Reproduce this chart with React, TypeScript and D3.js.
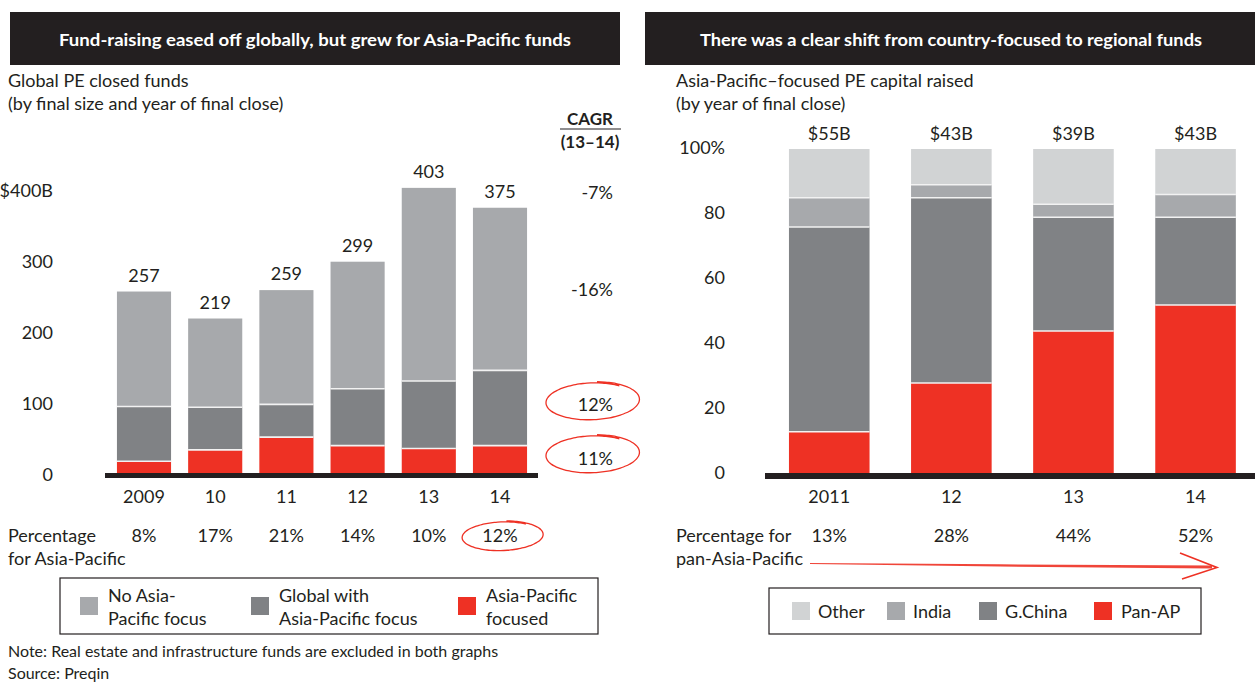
import React from "react";
import * as d3 from "d3";

// ---------- Left chart data ----------
const years = ["2009", "10", "11", "12", "13", "14"];
const totals = [257, 219, 259, 299, 403, 375];
const apFocused = [18, 34, 52, 40, 36, 40];
const globalWithAP = [77, 60, 46, 80, 95, 106];
const noAP = [162, 125, 161, 179, 272, 229];
const apShare = ["8%", "17%", "21%", "14%", "10%", "12%"];
const leftTicks = [0, 100, 200, 300, 400];
const leftTickLabels = ["0", "100", "200", "300", "$400B"];
const cagrLabels = ["-7%", "-16%", "12%", "11%"];

// ---------- Right chart data ----------
const rYears = ["2011", "12", "13", "14"];
const panAP = [13, 28, 44, 52];
const gChina = [63, 57, 35, 27];
const india = [9, 4, 4, 7];
const other = [15, 11, 17, 14];
const rTotals = ["$55B", "$43B", "$39B", "$43B"];
const panShare = ["13%", "28%", "44%", "52%"];
const rightTicks = [0, 20, 40, 60, 80, 100];
const rightTickLabels = ["0", "20", "40", "60", "80", "100%"];

const C = {
  red: "#ee3124",
  light: "#a7a9ac",
  dark: "#808285",
  other: "#d1d3d4",
  text: "#231f20",
  black: "#231f20",
};
const FONT = "Lato, 'Open Sans', sans-serif";

function handEllipse(cx: number, cy: number, rx: number, ry: number, tilt: number) {
  const pts: [number, number][] = [];
  const n = 80;
  const start = -0.9;
  const sweep = Math.PI * 2 + 0.55;
  for (let i = 0; i <= n; i++) {
    const t = (i / n) * sweep;
    const a = start - t;
    const grow = 1 + 0.07 * (i / n);
    const x0 = rx * grow * Math.cos(a);
    const y0 = ry * grow * Math.sin(a);
    const ct = Math.cos(tilt), st = Math.sin(tilt);
    pts.push([cx + x0 * ct - y0 * st, cy + x0 * st + y0 * ct]);
  }
  return d3.line().curve(d3.curveCatmullRom)(pts) || "";
}

function LeftChart() {
  const x = d3.scaleBand<string>().domain(years).range([108.4, 535.6]).paddingInner(0.24).paddingOuter(0.12);
  const y = d3.scaleLinear().domain([0, 400]).range([474, 190]);
  const series = [
    { key: "ap", vals: apFocused, color: C.red },
    { key: "gw", vals: globalWithAP, color: C.dark },
    { key: "no", vals: noAP, color: C.light },
  ];
  const bw = x.bandwidth();
  const last = years.length - 1;
  const cagrY = [
    y(totals[last]) - 16,
    y(apFocused[last] + globalWithAP[last] + noAP[last] / 2),
    y(apFocused[last] + globalWithAP[last] / 2) - 4,
    y(apFocused[last] / 2) - 2,
  ];
  return (
    <g>
      <rect x={10} y={12} width={610} height={53} fill={C.black} />
      <text x={315} y={39} fill="#fff" fontFamily={FONT} fontWeight={700} fontSize={17}
        textAnchor="middle" dominantBaseline="central" textLength={512} lengthAdjust="spacingAndGlyphs">
        Fund-raising eased off globally, but grew for Asia-Pacific funds
      </text>
      <text x={8} y={87} fill={C.text} fontFamily={FONT} fontSize={18}>Global PE closed funds</text>
      <text x={8} y={110} fill={C.text} fontFamily={FONT} fontSize={18}>(by final size and year of final close)</text>

      <text x={590} y={125} fill={C.text} fontFamily={FONT} fontSize={17} fontWeight={700} textAnchor="middle">CAGR</text>
      <line x1={560} x2={621} y1={129} y2={129} stroke={C.text} strokeWidth={1.2} />
      <text x={590} y={148} fill={C.text} fontFamily={FONT} fontSize={17} fontWeight={700} textAnchor="middle">(13–14)</text>

      {leftTicks.map((t, i) => (
        <text key={t} x={53} y={y(t)} fill={C.text} fontFamily={FONT} fontSize={18}
          textAnchor="end" dominantBaseline="central">{leftTickLabels[i]}</text>
      ))}

      {years.map((yr, i) => {
        let acc = 0;
        const x0 = x(yr) as number;
        return (
          <g key={yr}>
            {series.map((s, k) => {
              const v0 = acc;
              acc += s.vals[i];
              return (
                <g key={s.key}>
                  <rect x={x0} y={y(acc)} width={bw} height={y(v0) - y(acc)} fill={s.color} />
                  {k > 0 && <line x1={x0} x2={x0 + bw} y1={y(v0)} y2={y(v0)} stroke="#f2f2f2" strokeWidth={1.6} />}
                </g>
              );
            })}
            <text x={x0 + bw / 2} y={y(totals[i]) - 10} fill={C.text} fontFamily={FONT} fontSize={18}
              textAnchor="middle">{totals[i]}</text>
            <text x={x0 + bw / 2} y={503} fill={C.text} fontFamily={FONT} fontSize={18}
              textAnchor="middle">{yr}</text>
            <text x={x0 + bw / 2} y={542} fill={C.text} fontFamily={FONT} fontSize={18}
              textAnchor="middle">{apShare[i]}</text>
          </g>
        );
      })}
      <rect x={105} y={y(0) - 1} width={433} height={5} fill={C.black} />

      {cagrLabels.map((c, i) => (
        <text key={c + i} x={613} y={cagrY[i]} fill={C.text} fontFamily={FONT} fontSize={18}
          textAnchor="end" dominantBaseline="central">{c}</text>
      ))}
      <path d={handEllipse(592, 401, 45, 18, -0.04)} fill="none" stroke={C.red} strokeWidth={1.3} />
      <path d={handEllipse(592, 454, 45, 18, -0.04)} fill="none" stroke={C.red} strokeWidth={1.3} />
      <path d={handEllipse(502, 536, 39, 14, -0.04)} fill="none" stroke={C.red} strokeWidth={1.3} />

      <text x={8} y={542} fill={C.text} fontFamily={FONT} fontSize={18}>Percentage</text>
      <text x={8} y={565} fill={C.text} fontFamily={FONT} fontSize={18}>for Asia-Pacific</text>

      <rect x={60} y={578} width={538} height={56} fill="none" stroke={C.text} strokeWidth={1.2} />
      <rect x={80} y={597} width={18} height={18} fill={C.light} />
      <text x={108} y={602} fill={C.text} fontFamily={FONT} fontSize={18}>No Asia-</text>
      <text x={108} y={625} fill={C.text} fontFamily={FONT} fontSize={18}>Pacific focus</text>
      <rect x={251} y={597} width={18} height={18} fill={C.dark} />
      <text x={279} y={602} fill={C.text} fontFamily={FONT} fontSize={18}>Global with</text>
      <text x={279} y={625} fill={C.text} fontFamily={FONT} fontSize={18}>Asia-Pacific focus</text>
      <rect x={458} y={597} width={18} height={18} fill={C.red} />
      <text x={486} y={602} fill={C.text} fontFamily={FONT} fontSize={18}>Asia-Pacific</text>
      <text x={486} y={625} fill={C.text} fontFamily={FONT} fontSize={18}>focused</text>

      <text x={8} y={657} fill={C.text} fontFamily={FONT} fontSize={16}>Note: Real estate and infrastructure funds are excluded in both graphs</text>
      <text x={8} y={679} fill={C.text} fontFamily={FONT} fontSize={16}>Source: Preqin</text>
    </g>
  );
}

function RightChart() {
  const x = d3.scaleBand<string>().domain(rYears).range([768.2, 1256.6]).paddingInner(0.34).paddingOuter(0.17);
  const y = d3.scaleLinear().domain([0, 100]).range([474, 149]);
  const series = [
    { key: "pan", vals: panAP, color: C.red },
    { key: "gc", vals: gChina, color: C.dark },
    { key: "in", vals: india, color: C.light },
    { key: "ot", vals: other, color: C.other },
  ];
  const bw = x.bandwidth();
  const legend = [
    { label: "Other", color: C.other, sx: 792, tx: 818 },
    { label: "India", color: C.light, sx: 887, tx: 913 },
    { label: "G.China", color: C.dark, sx: 979, tx: 1005 },
    { label: "Pan-AP", color: C.red, sx: 1094, tx: 1121 },
  ];
  const shaft: [number, number][] = [[810, 563], [1000, 564.3], [1212, 565.6], [1212, 568.6], [1000, 566.5], [810, 564]];
  return (
    <g>
      <rect x={645} y={12} width={610} height={53} fill={C.black} />
      <text x={951} y={39} fill="#fff" fontFamily={FONT} fontWeight={700} fontSize={17}
        textAnchor="middle" dominantBaseline="central" textLength={502} lengthAdjust="spacingAndGlyphs">
        There was a clear shift from country-focused to regional funds
      </text>
      <text x={676} y={87} fill={C.text} fontFamily={FONT} fontSize={18}>Asia-Pacific–focused PE capital raised</text>
      <text x={676} y={110} fill={C.text} fontFamily={FONT} fontSize={18}>(by year of final close)</text>

      {rightTicks.map((t, i) => (
        <text key={t} x={725} y={y(t) - 2} fill={C.text} fontFamily={FONT} fontSize={18}
          textAnchor="end" dominantBaseline="central">{rightTickLabels[i]}</text>
      ))}

      {rYears.map((yr, i) => {
        let acc = 0;
        const x0 = x(yr) as number;
        return (
          <g key={yr}>
            {series.map((s, k) => {
              const v0 = acc;
              acc += s.vals[i];
              return (
                <g key={s.key}>
                  <rect x={x0} y={y(acc)} width={bw} height={y(v0) - y(acc)} fill={s.color} />
                  {k > 0 && <line x1={x0} x2={x0 + bw} y1={y(v0)} y2={y(v0)} stroke="#f2f2f2" strokeWidth={1.6} />}
                </g>
              );
            })}
            <text x={x0 + bw / 2} y={y(100) - 9} fill={C.text} fontFamily={FONT} fontSize={18}
              textAnchor="middle">{rTotals[i]}</text>
            <text x={x0 + bw / 2} y={503} fill={C.text} fontFamily={FONT} fontSize={18}
              textAnchor="middle">{yr}</text>
            <text x={x0 + bw / 2} y={542} fill={C.text} fontFamily={FONT} fontSize={18}
              textAnchor="middle">{panShare[i]}</text>
          </g>
        );
      })}
      <rect x={765} y={y(0) - 1} width={490} height={6} fill={C.black} />

      <text x={676} y={542} fill={C.text} fontFamily={FONT} fontSize={18}>Percentage for</text>
      <text x={676} y={565} fill={C.text} fontFamily={FONT} fontSize={18}>pan-Asia-Pacific</text>

      <path d={(d3.line()(shaft) || "") + "Z"} fill={C.red} opacity={0.9} />
      <polyline points="1180,553 1217,567.5 1182,579" fill="none" stroke={C.red} strokeWidth={1.6} />

      <rect x={769} y={588} width={432} height={46} fill="none" stroke={C.text} strokeWidth={1.2} />
      {legend.map((l) => (
        <g key={l.label}>
          <rect x={l.sx} y={602} width={18} height={18} fill={l.color} />
          <text x={l.tx} y={618} fill={C.text} fontFamily={FONT} fontSize={18}>{l.label}</text>
        </g>
      ))}
    </g>
  );
}

export default function App() {
  return (
    <svg width={1255} height={682} viewBox="0 0 1255 682"
      style={{ position: "absolute", left: 0, top: 0, display: "block", background: "#fff" }}>
      <rect x={0} y={0} width={1255} height={682} fill="#fff" />
      <LeftChart />
      <RightChart />
    </svg>
  );
}
